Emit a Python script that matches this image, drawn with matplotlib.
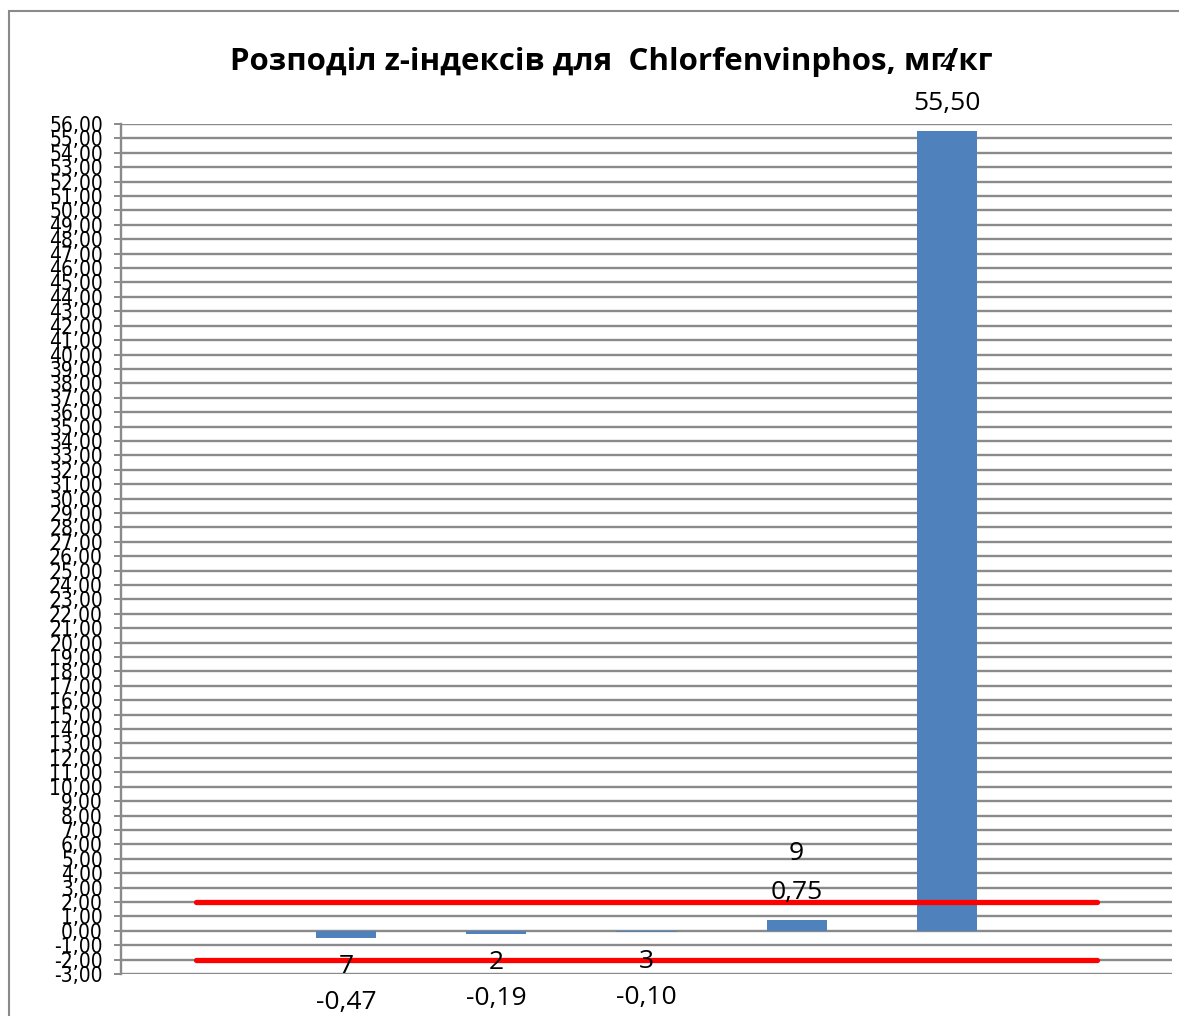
import matplotlib
matplotlib.use("Agg")
import matplotlib.pyplot as plt
from matplotlib import font_manager
from matplotlib.ticker import MultipleLocator, FuncFormatter
from matplotlib.patches import Rectangle

# data
categories = ['', '7', '2', '3', '9', '4', '']
z_values = [None, -0.47, -0.19, -0.10, 0.75, 55.50, None]
upper_limit = [2.0] * len(categories)
lower_limit = [-2.0] * len(categories)
title = 'Розподіл z-індексів для  Chlorfenvinphos, мг/кг'

names = {f.name for f in font_manager.fontManager.ttflist}
narrow = 'Liberation Sans Narrow' if 'Liberation Sans Narrow' in names else 'DejaVu Sans'

W, H = 1179, 1016
fig = plt.figure(figsize=(W / 100, H / 100), dpi=100)
ax = fig.add_axes([121 / W, 1 - 974 / H, (1172 - 121) / W, (974 - 124) / H])

# chart frame (only left and top visible in the crop)
fig.patches.append(Rectangle((9 / W, -0.1), 1.2, (H - 11) / H + 0.1, transform=fig.transFigure,
                             fill=False, edgecolor='#8a8a8a', linewidth=1.5))

grid_col = '#8a8a8a'
ax.set_ylim(-3, 56)
ax.set_xlim(-0.5, len(categories) - 0.5)
ax.yaxis.set_major_locator(MultipleLocator(1))
ax.yaxis.set_major_formatter(FuncFormatter(lambda v, p: f'{v:.2f}'.replace('.', ',')))
ax.grid(axis='y', color=grid_col, linewidth=1.7, zorder=0)
ax.set_axisbelow(True)
for s in ['top', 'right', 'bottom']:
    ax.spines[s].set_visible(False)
ax.spines['left'].set_color(grid_col)
ax.spines['left'].set_linewidth(1.7)
ax.tick_params(axis='y', length=5, width=1.4, color=grid_col, pad=8, labelsize=15)
ax.tick_params(axis='x', length=0, labelbottom=False)
for lab in ax.get_yticklabels():
    lab.set_fontfamily(narrow)
    lab.set_fontstretch('condensed')

xs = [i for i, v in enumerate(z_values) if v is not None]
vals = [z_values[i] for i in xs]
ax.bar(xs, vals, width=0.4, color='#4F81BD', zorder=2)

ax.plot(range(len(categories)), upper_limit, color='#ff0000', linewidth=3.8,
        solid_capstyle='round', zorder=3)
ax.plot(range(len(categories)), lower_limit, color='#ff0000', linewidth=3.8,
        solid_capstyle='round', zorder=3)

for x, v in zip(xs, vals):
    lbl = f'{v:.2f}'.replace('.', ',')
    sign = 1 if v >= 0 else -1
    ax.annotate(lbl, (x, v), xytext=(0, sign * (20 if v >= 0 else 47)), textcoords='offset points',
                ha='center', va='center', fontsize=19, family='Open Sans', annotation_clip=False)
    ax.annotate(categories[x], (x, v), xytext=(0, sign * (48 if v >= 0 else 21)),
                textcoords='offset points', ha='center', va='center', fontsize=19,
                family='Open Sans', annotation_clip=False)

fig.text(611 / W, 1 - 62 / H, title, ha='center', va='center', fontsize=22.5,
         fontweight='bold', family='Open Sans')

fig.savefig('out.png', dpi=100)
